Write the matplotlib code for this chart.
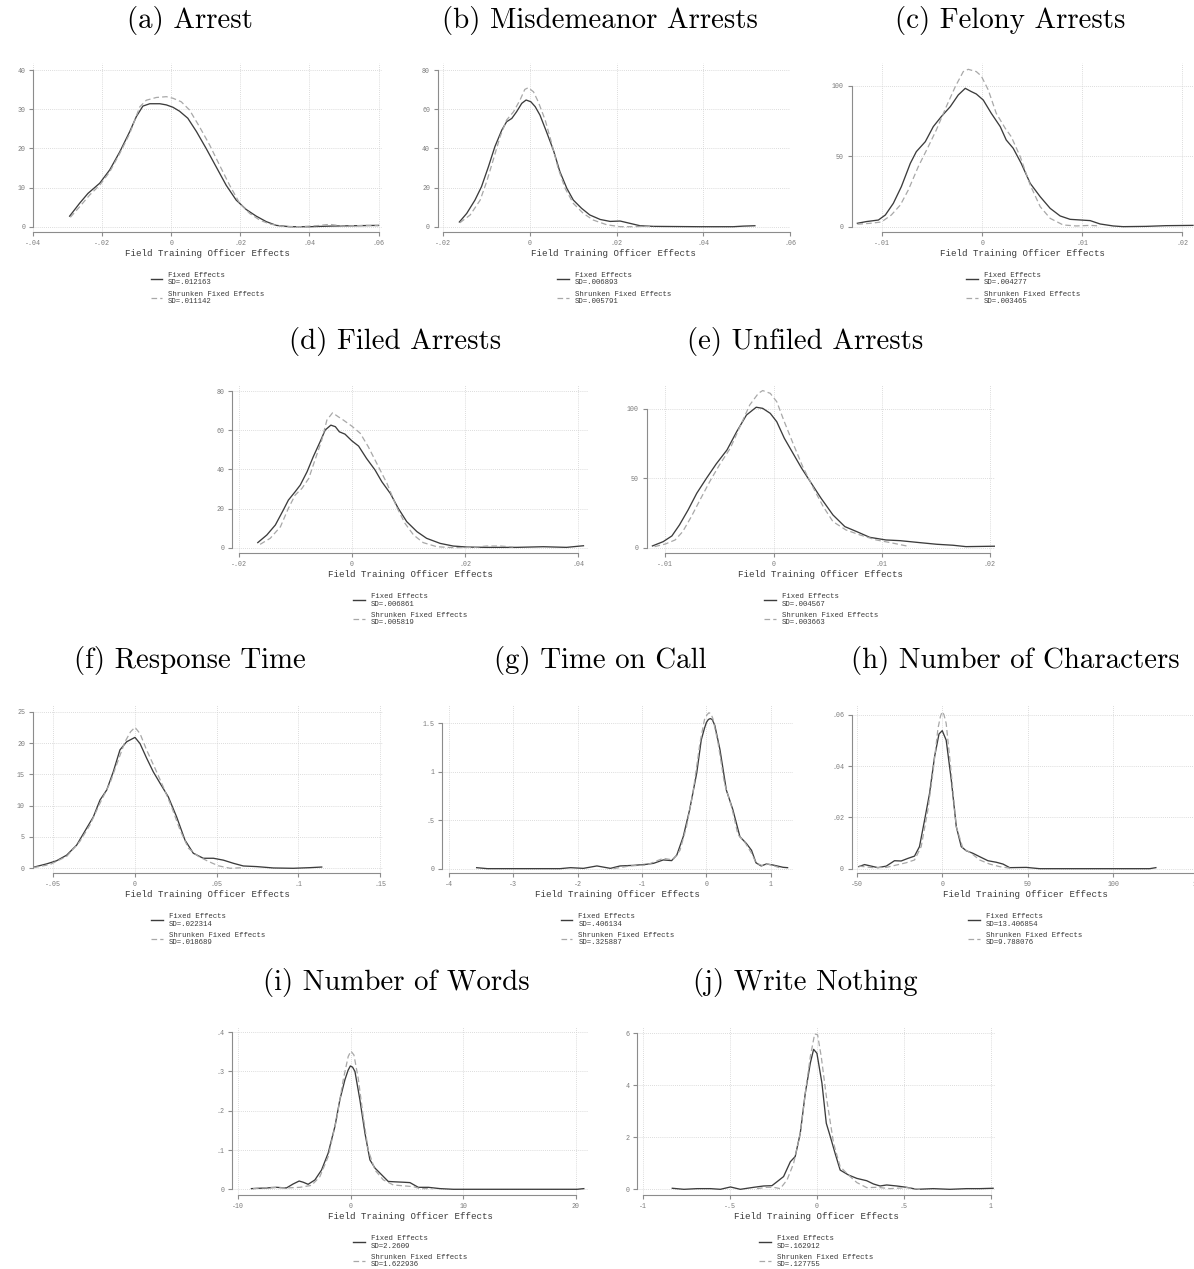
import matplotlib
matplotlib.use("Agg")
import matplotlib.pyplot as plt
from matplotlib.lines import Line2D

# ---- data (kernel densities of FTO effects) ----
# (a) Arrest
a_fe_x = [-0.0294, -0.0265, -0.0241, -0.0207, -0.0178, -0.0149, -0.012, -0.0101, -0.0082, -0.0062, -0.0033, -0.0014,
          0.0005, 0.0024, 0.0048, 0.0073, 0.0101, 0.013, 0.0159, 0.0188, 0.0217, 0.0246, 0.0275, 0.0304, 0.0343,
          0.04, 0.0468, 0.06]
a_fe_y = [2.7, 6.0, 8.5, 11.1, 14.5, 19.1, 24.3, 28.1, 30.8, 31.4, 31.4, 31.1, 30.5, 29.5, 27.7, 24.3, 20.0, 15.3,
          10.6, 6.8, 4.4, 2.7, 1.3, 0.34, 0.0, 0.0, 0.17, 0.34]
a_sh_x = [-0.0292, -0.0265, -0.0236, -0.0207, -0.0178, -0.0149, -0.012, -0.0091, -0.0072, -0.0043, -0.0014, 0.0005,
          0.0029, 0.0053, 0.0082, 0.0111, 0.014, 0.0169, 0.0198, 0.0227, 0.0256, 0.0285, 0.0323, 0.0371, 0.042,
          0.0458, 0.0497, 0.0564, 0.06]
a_sh_y = [2.4, 5.1, 8.1, 10.6, 14.0, 18.7, 23.8, 30.6, 32.3, 33.0, 33.2, 32.8, 31.9, 29.8, 25.5, 20.9, 15.7, 10.6,
          6.0, 3.4, 1.7, 0.7, 0.1, 0.0, 0.25, 0.6, 0.17, 0.34, 0.25]

# (b) Misdemeanor Arrests
b_fe_x = [-0.0163, -0.0146, -0.0127, -0.0112, -0.0096, -0.0081, -0.0065, -0.0054, -0.0042, -0.0031, -0.0019, -0.0009,
          0.0002, 0.0012, 0.0023, 0.0038, 0.0054, 0.0069, 0.0085, 0.01, 0.0119, 0.0138, 0.0162, 0.0185, 0.0208,
          0.0231, 0.0254, 0.0285, 0.0392, 0.0469, 0.0492, 0.0519]
b_fe_y = [2.4, 6.8, 13.6, 20.4, 30.6, 40.9, 49.4, 53.6, 55.3, 58.7, 63.0, 64.7, 63.8, 61.3, 57.0, 48.5, 39.1, 28.1,
          19.6, 13.6, 9.4, 6.0, 3.7, 2.7, 2.9, 1.7, 0.5, 0.17, 0.0, 0.0, 0.3, 0.5]
b_sh_x = [-0.0162, -0.0138, -0.0115, -0.01, -0.0085, -0.0069, -0.0054, -0.0038, -0.0023, -0.0012, -0.0004, 0.0008,
          0.0019, 0.0035, 0.005, 0.0065, 0.0081, 0.01, 0.0123, 0.0146, 0.0177, 0.0208, 0.0238, 0.0262, 0.0285]
b_sh_y = [2.0, 6.0, 13.6, 23.0, 34.0, 46.0, 54.5, 58.7, 64.7, 70.1, 71.0, 68.9, 63.8, 54.5, 42.6, 29.8, 19.6, 11.9,
          6.8, 3.4, 1.0, 0.0, 0.0, 0.17, 0.0]

# (c) Felony Arrests
c_fe_x = [-0.0125, -0.0116, -0.0104, -0.0097, -0.0089, -0.0081, -0.0072, -0.0066, -0.0057, -0.0049, -0.0041, -0.0032,
          -0.0024, -0.0017, -0.0011, -0.0006, 0.0001, 0.0009, 0.0018, 0.0024, 0.0031, 0.0039, 0.0048, 0.0058,
          0.0068, 0.0078, 0.0088, 0.0099, 0.0108, 0.0118, 0.0131, 0.0141, 0.0164, 0.0184, 0.0211]
c_fe_y = [2.4, 3.6, 4.7, 8.3, 16.6, 28.4, 45.0, 53.3, 60.4, 71.1, 78.2, 85.3, 93.6, 98.3, 96.0, 94.3, 90.0, 80.6,
          71.1, 61.6, 55.7, 45.0, 30.8, 21.3, 13.0, 7.6, 5.2, 4.7, 4.3, 1.9, 0.5, 0.0, 0.2, 0.7, 0.9]
c_sh_x = [-0.0125, -0.0112, -0.0101, -0.0091, -0.0082, -0.0074, -0.0064, -0.0054, -0.0046, -0.0036, -0.0027, -0.0019,
          -0.0014, -0.0006, -0.0001, 0.0006, 0.0014, 0.0023, 0.0029, 0.0038, 0.0048, 0.0058, 0.0068, 0.0081,
          0.0094, 0.0108, 0.0118]
c_sh_y = [1.7, 2.4, 3.3, 8.3, 15.4, 26.1, 42.7, 56.9, 68.7, 85.3, 99.5, 110.2, 111.8, 110.2, 107.1, 97.2, 80.6,
          69.9, 64.0, 49.8, 29.6, 14.2, 5.9, 1.2, 0.5, 0.9, 0.5]

# (d) Filed Arrests
d_fe_x = [-0.0166, -0.015, -0.0135, -0.0121, -0.0112, -0.01, -0.0091, -0.0079, -0.0068, -0.0056, -0.0047, -0.0037,
          -0.0029, -0.0022, -0.0012, 0.0, 0.0012, 0.0026, 0.0041, 0.0053, 0.0068, 0.0082, 0.0097, 0.0115, 0.0132,
          0.0156, 0.0179, 0.0203, 0.0238, 0.0291, 0.0338, 0.0379, 0.0409]
d_fe_y = [2.6, 6.5, 11.6, 19.2, 24.3, 28.6, 32.0, 38.8, 46.5, 54.1, 60.1, 62.6, 61.8, 59.2, 58.0, 54.6, 51.9, 45.6,
          39.7, 33.7, 27.7, 20.1, 13.3, 8.2, 4.8, 2.2, 0.85, 0.34, 0.17, 0.17, 0.5, 0.17, 1.0]
d_sh_x = [-0.0162, -0.0144, -0.0126, -0.0112, -0.01, -0.0088, -0.0076, -0.0065, -0.0053, -0.0044, -0.0034, -0.0024,
          -0.0015, 0.0, 0.0015, 0.0029, 0.0044, 0.0062, 0.0079, 0.0094, 0.0109, 0.0126, 0.015, 0.0179, 0.0215,
          0.0238, 0.0262, 0.0285]
d_sh_y = [1.7, 4.8, 10.7, 20.1, 26.9, 30.3, 35.4, 44.8, 55.0, 65.2, 68.9, 66.9, 65.2, 62.1, 58.4, 51.6, 43.1, 32.9,
          20.9, 12.4, 6.5, 2.6, 0.5, 0.0, 0.17, 0.85, 0.85, 0.34]

# (e) Unfiled Arrests
e_fe_x = [-0.0112, -0.0102, -0.0094, -0.0087, -0.0079, -0.0071, -0.0062, -0.0053, -0.0043, -0.0034, -0.0025, -0.0016,
          -0.001, -0.0003, 0.0003, 0.001, 0.0018, 0.0026, 0.0035, 0.0044, 0.0055, 0.0066, 0.0077, 0.0089, 0.0104,
          0.0117, 0.0135, 0.0151, 0.0166, 0.0178, 0.0205]
e_fe_y = [1.2, 4.3, 8.4, 16.3, 27.1, 39.1, 49.9, 60.2, 70.3, 83.5, 95.4, 101.0, 100.2, 96.6, 90.6, 78.7, 67.9, 57.1,
          46.3, 35.5, 23.5, 15.1, 11.5, 7.4, 5.5, 5.0, 3.6, 2.4, 1.7, 0.7, 1.0]
e_sh_x = [-0.011, -0.01, -0.0091, -0.0084, -0.0076, -0.0068, -0.0059, -0.005, -0.004, -0.0031, -0.0022, -0.0014,
          -0.001, -0.0003, 0.0003, 0.001, 0.0018, 0.0027, 0.0037, 0.0046, 0.0055, 0.0067, 0.008, 0.0095, 0.0108,
          0.0123]
e_sh_y = [0.7, 2.6, 5.5, 11.5, 22.3, 34.3, 47.5, 59.5, 71.5, 87.1, 102.6, 111.0, 113.0, 111.0, 105.0, 90.6, 75.1,
          58.3, 42.7, 29.5, 18.7, 12.7, 9.1, 5.5, 3.6, 1.2]

# (f) Response Time
f_fe_x = [-0.0622, -0.0541, -0.048, -0.0418, -0.0357, -0.0296, -0.0255, -0.0214, -0.0173, -0.0133, -0.0092, -0.0051,
          0.0, 0.0031, 0.0071, 0.0112, 0.0153, 0.0204, 0.0255, 0.0306, 0.0357, 0.0418, 0.048, 0.0541, 0.0602,
          0.0663, 0.0745, 0.0847, 0.0969, 0.1071, 0.1143]
f_fe_y = [0.16, 0.7, 1.2, 2.1, 3.7, 6.4, 8.2, 10.9, 12.5, 15.4, 18.9, 20.2, 20.9, 19.9, 17.6, 15.4, 13.6, 11.4, 8.2,
          4.5, 2.4, 1.6, 1.6, 1.3, 0.8, 0.37, 0.27, 0.05, 0.0, 0.1, 0.2]
f_sh_x = [-0.0622, -0.052, -0.0418, -0.0337, -0.0276, -0.0214, -0.0153, -0.0102, -0.0061, -0.0027, 0.0, 0.0031,
          0.0071, 0.0122, 0.0173, 0.0224, 0.0276, 0.0327, 0.0388, 0.0449, 0.051, 0.0582, 0.0663]
f_sh_y = [0.1, 0.6, 1.9, 4.3, 6.9, 10.4, 13.6, 17.3, 20.2, 21.8, 22.5, 21.5, 18.9, 16.0, 13.0, 9.8, 6.1, 3.2, 1.9,
          1.1, 0.4, 0.0, 0.1]

# (g) Time on Call
g_fe_x = [-3.567, -3.40, -2.68, -2.27, -2.11, -1.91, -1.70, -1.49, -1.34, -1.13, -0.93, -0.82, -0.67, -0.54, -0.46,
          -0.36, -0.26, -0.15, -0.08, -0.03, 0.0, 0.03, 0.06, 0.09, 0.13, 0.21, 0.31, 0.41, 0.52, 0.62, 0.70, 0.77,
          0.85, 0.93, 1.03, 1.19, 1.26]
g_fe_y = [0.01, 0.0, 0.0, 0.0, 0.01, 0.003, 0.028, 0.003, 0.028, 0.034, 0.045, 0.055, 0.09, 0.083, 0.14, 0.33,
          0.61, 0.99, 1.33, 1.45, 1.51, 1.54, 1.55, 1.54, 1.48, 1.23, 0.81, 0.61, 0.33, 0.26, 0.19, 0.06, 0.028,
          0.048, 0.038, 0.014, 0.01]
g_sh_x = [-1.44, -1.19, -0.93, -0.67, -0.52, -0.41, -0.31, -0.21, -0.10, -0.03, 0.01, 0.04, 0.07, 0.10, 0.18,
          0.28, 0.39, 0.49, 0.59, 0.70, 0.77, 0.88, 0.95, 1.03, 1.13]
g_sh_y = [0.0, 0.028, 0.038, 0.107, 0.09, 0.19, 0.43, 0.78, 1.30, 1.54, 1.59, 1.61, 1.60, 1.55, 1.30, 0.88, 0.64,
          0.35, 0.28, 0.16, 0.06, 0.028, 0.048, 0.034, 0.01]

# (h) Number of Characters
h_fe_x = [-48.7, -45.4, -41.5, -37.6, -32.7, -27.9, -24.0, -20.1, -16.2, -13.3, -10.3, -7.4, -4.5, -1.9, 0.0, 2.3,
          5.3, 8.2, 11.1, 14.0, 17.9, 21.8, 26.7, 31.6, 35.5, 39.4, 49.1, 56.9, 92.0, 121.2, 124.8]
h_fe_y = [0.0008, 0.0016, 0.001, 0.0004, 0.001, 0.0031, 0.003, 0.004, 0.0049, 0.0086, 0.019, 0.0294, 0.0436,
          0.0525, 0.0538, 0.0501, 0.0345, 0.0164, 0.0086, 0.007, 0.006, 0.0047, 0.0031, 0.0025, 0.0018, 0.0004,
          0.0005, 0.0, 0.0, 0.0, 0.0004]
h_sh_x = [-48.7, -40.5, -32.7, -26.9, -21.1, -16.2, -12.3, -8.4, -5.5, -2.5, -1.0, 0.0, 1.0, 2.3, 5.3, 8.2, 12.1,
          17.0, 21.8, 27.7, 33.5, 41.3]
h_sh_y = [0.001, 0.0004, 0.0005, 0.0014, 0.0023, 0.0034, 0.0086, 0.0229, 0.0371, 0.0547, 0.0595, 0.0612, 0.0600,
          0.0566, 0.0371, 0.0164, 0.0079, 0.006, 0.0034, 0.0018, 0.0008, 0.0]

# (i) Number of Words
i_fe_x = [-8.84, -7.51, -6.62, -5.73, -5.13, -4.60, -4.24, -3.80, -3.20, -2.61, -2.02, -1.42, -0.98, -0.53, -0.25,
          -0.05, 0.15, 0.36, 0.80, 1.25, 1.69, 2.14, 2.73, 3.32, 3.92, 4.66, 5.25, 5.99, 6.88, 7.92, 9.11, 16.2,
          20.1, 20.7]
i_fe_y = [0.0017, 0.0034, 0.005, 0.0034, 0.0136, 0.021, 0.018, 0.0127, 0.0238, 0.049, 0.092, 0.16, 0.228, 0.279,
          0.303, 0.314, 0.311, 0.30, 0.228, 0.143, 0.075, 0.054, 0.037, 0.02, 0.019, 0.018, 0.017, 0.005, 0.005,
          0.0017, 0.0, 0.0, 0.0, 0.0017]
i_sh_x = [-8.69, -7.21, -5.73, -4.54, -3.50, -2.76, -2.02, -1.28, -0.68, -0.24, 0.0, 0.27, 0.65, 1.10, 1.54, 2.14,
          2.88, 3.77, 4.81, 5.55, 6.14, 7.33]
i_sh_y = [0.0017, 0.005, 0.0034, 0.005, 0.010, 0.032, 0.083, 0.177, 0.279, 0.338, 0.352, 0.342, 0.283, 0.185,
          0.100, 0.049, 0.024, 0.011, 0.0085, 0.0068, 0.0017, 0.0017]

# (j) Write Nothing
j_fe_x = [-0.833, -0.766, -0.69, -0.613, -0.556, -0.498, -0.441, -0.364, -0.307, -0.259, -0.23, -0.192, -0.153,
          -0.125, -0.096, -0.067, -0.038, -0.019, 0.0, 0.029, 0.054, 0.077, 0.105, 0.134, 0.182, 0.23, 0.287, 0.326,
          0.364, 0.402, 0.46, 0.517, 0.575, 0.67, 0.766, 0.862, 0.939, 1.015]
j_fe_y = [0.04, 0.0, 0.026, 0.026, 0.0, 0.09, 0.0, 0.077, 0.128, 0.14, 0.29, 0.49, 1.06, 1.26, 2.15, 3.69, 4.85,
          5.38, 5.23, 4.08, 2.54, 2.03, 1.38, 0.74, 0.55, 0.42, 0.33, 0.205, 0.128, 0.167, 0.128, 0.077, 0.0, 0.026,
          0.0, 0.026, 0.026, 0.04]
j_sh_x = [-0.345, -0.287, -0.249, -0.211, -0.172, -0.134, -0.096, -0.067, -0.038, -0.013, 0.004, 0.025, 0.057,
          0.096, 0.134, 0.182, 0.23, 0.287, 0.345, 0.421, 0.517, 0.594]
j_sh_y = [0.026, 0.077, 0.077, 0.026, 0.36, 1.0, 2.15, 3.69, 5.1, 5.97, 5.94, 5.10, 3.44, 1.77, 0.87, 0.55, 0.26,
          0.064, 0.077, 0.026, 0.064, 0.0]

titles = ["(a) Arrest", "(b) Misdemeanor Arrests", "(c) Felony Arrests", "(d) Filed Arrests",
          "(e) Unfiled Arrests", "(f) Response Time", "(g) Time on Call", "(h) Number of Characters",
          "(i) Number of Words", "(j) Write Nothing"]
sd_fe = [".012163", ".006893", ".004277", ".006861", ".004567", ".022314", ".406134", "13.406854", "2.2609",
         ".162912"]
sd_sh = [".011142", ".005791", ".003465", ".005819", ".003663", ".018689", ".325887", "9.788076", "1.622936",
         ".127755"]

x_ticks = [
    ([-0.04, -0.02, 0, 0.02, 0.04, 0.06], ["-.04", "-.02", "0", ".02", ".04", ".06"]),
    ([-0.02, 0, 0.02, 0.04, 0.06], ["-.02", "0", ".02", ".04", ".06"]),
    ([-0.01, 0, 0.01, 0.02], ["-.01", "0", ".01", ".02"]),
    ([-0.02, 0, 0.02, 0.04], ["-.02", "0", ".02", ".04"]),
    ([-0.01, 0, 0.01, 0.02], ["-.01", "0", ".01", ".02"]),
    ([-0.05, 0, 0.05, 0.1, 0.15], ["-.05", "0", ".05", ".1", ".15"]),
    ([-4, -3, -2, -1, 0, 1], ["-4", "-3", "-2", "-1", "0", "1"]),
    ([-50, 0, 50, 100, 150], ["-50", "0", "50", "100", "150"]),
    ([-10, 0, 10, 20], ["-10", "0", "10", "20"]),
    ([-1, -0.5, 0, 0.5, 1], ["-1", "-.5", "0", ".5", "1"]),
]
y_ticks = [
    ([0, 10, 20, 30, 40], ["0", "10", "20", "30", "40"]),
    ([0, 20, 40, 60, 80], ["0", "20", "40", "60", "80"]),
    ([0, 50, 100], ["0", "50", "100"]),
    ([0, 20, 40, 60, 80], ["0", "20", "40", "60", "80"]),
    ([0, 50, 100], ["0", "50", "100"]),
    ([0, 5, 10, 15, 20, 25], ["0", "5", "10", "15", "20", "25"]),
    ([0, 0.5, 1, 1.5], ["0", ".5", "1", "1.5"]),
    ([0, 0.02, 0.04, 0.06], ["0", ".02", ".04", ".06"]),
    ([0, 0.1, 0.2, 0.3, 0.4], ["0", ".1", ".2", ".3", ".4"]),
    ([0, 2, 4, 6], ["0", "2", "4", "6"]),
]

curves = [(a_fe_x, a_fe_y, a_sh_x, a_sh_y), (b_fe_x, b_fe_y, b_sh_x, b_sh_y), (c_fe_x, c_fe_y, c_sh_x, c_sh_y),
          (d_fe_x, d_fe_y, d_sh_x, d_sh_y), (e_fe_x, e_fe_y, e_sh_x, e_sh_y), (f_fe_x, f_fe_y, f_sh_x, f_sh_y),
          (g_fe_x, g_fe_y, g_sh_x, g_sh_y), (h_fe_x, h_fe_y, h_sh_x, h_sh_y), (i_fe_x, i_fe_y, i_sh_x, i_sh_y),
          (j_fe_x, j_fe_y, j_sh_x, j_sh_y)]

# ---- layout (pixels): plot box left, right, top, bottom ; axis limits ; title centre x, baseline y ----
W, H = 1194, 1269
boxes = [(33, 382, 63, 232), (437.7, 790, 63, 232), (851.7, 1194, 63, 232),
         (232.3, 588, 385, 553.3), (646.7, 995, 385, 553.3),
         (32.7, 383, 705, 873.3), (442.3, 793, 705, 873.3), (851.7, 1199, 705, 873.3),
         (232.3, 588.3, 1026.7, 1195.3), (637.3, 995, 1026.7, 1195.3)]
xlims = [(-0.0400, 0.0610), (-0.0213, 0.0600), (-0.01307, 0.0212), (-0.0211, 0.0417), (-0.01173, 0.02049),
         (-0.0626, 0.1518), (-4.10, 1.344), (-52.9, 150.0), (-10.54, 21.1), (-1.0346, 1.0259)]
ylims = [(-1.35, 41.8), (-2.7, 83.6), (-3.8, 116.3), (-2.86, 83.1), (-4.1, 117.0),
         (-0.8, 26.07), (-0.048, 1.69), (-0.0018, 0.0638), (-0.0153, 0.414), (-0.23, 6.25)]
title_pos = [(190, 28), (600, 28), (1010, 28), (395.5, 349), (805, 349),
             (190, 668), (600, 668), (1015, 668), (396, 990), (805, 990)]

mono = "Liberation Mono"
grey = "#8c8c8c"

fig = plt.figure(figsize=(W / 100, H / 100), dpi=100)

for k in range(10):
    l, r, t, b = boxes[k]
    ax = fig.add_axes([l / W, 1 - b / H, (r - l) / W, (b - t) / H])
    fx, fy, sx, sy = curves[k]
    ax.plot(fx, fy, color="#3c3c3c", lw=0.95, solid_joinstyle="round")
    ax.plot(sx, sy, color="#a8a8a8", lw=0.9, dashes=(4.5, 2.5))
    ax.set_xlim(*xlims[k])
    ax.set_ylim(*ylims[k])

    xt, xl = x_ticks[k]
    yt, yl = y_ticks[k]
    ax.set_xticks(xt)
    ax.set_xticklabels(xl)
    ax.set_yticks(yt)
    ax.set_yticklabels(yl)
    ax.tick_params(axis="both", direction="out", length=3, width=0.8, color=grey, labelcolor="#7a7a7a",
                   labelsize=4.8, pad=2.5)
    for lab in ax.get_xticklabels() + ax.get_yticklabels():
        lab.set_fontfamily(mono)

    ax.grid(True, linestyle=(0, (1, 1.5)), color="#d0d0d0", lw=0.6)
    ax.set_axisbelow(True)
    for s in ["top", "right"]:
        ax.spines[s].set_visible(False)
    ax.spines["left"].set_bounds(yt[0], yt[-1])
    ax.spines["bottom"].set_bounds(xt[0], xt[-1])
    for s in ["left", "bottom"]:
        ax.spines[s].set_color(grey)
        ax.spines[s].set_linewidth(0.8)

    ax.annotate("Field Training Officer Effects", xy=(0.5, 0), xycoords="axes fraction",
                xytext=(0, -21 * 0.72), textcoords="offset points", ha="center", va="center",
                fontsize=6.6, family=mono, color="#3a3a3a")

    handles = [Line2D([], [], color="#3c3c3c", lw=1.0),
               Line2D([], [], color="#a8a8a8", lw=0.9, dashes=(4.5, 2.5))]
    labels = ["Fixed Effects\nSD=" + sd_fe[k], "Shrunken Fixed Effects\nSD=" + sd_sh[k]]
    ah = b - t
    leg = ax.legend(handles, labels, loc="upper center", bbox_to_anchor=(0.5, -40 / ah), frameon=False,
                    prop={"family": mono, "size": 5.3}, handlelength=1.6, handletextpad=0.8,
                    labelspacing=0.6, borderpad=0, borderaxespad=0)
    for txt in leg.get_texts():
        txt.set_linespacing(1.05)
        txt.set_color("#3a3a3a")

    fig.text(title_pos[k][0] / W, 1 - title_pos[k][1] / H, titles[k], ha="center", va="baseline",
             fontsize=20.8, family="cmr10")

fig.savefig("out.png", dpi=100)
